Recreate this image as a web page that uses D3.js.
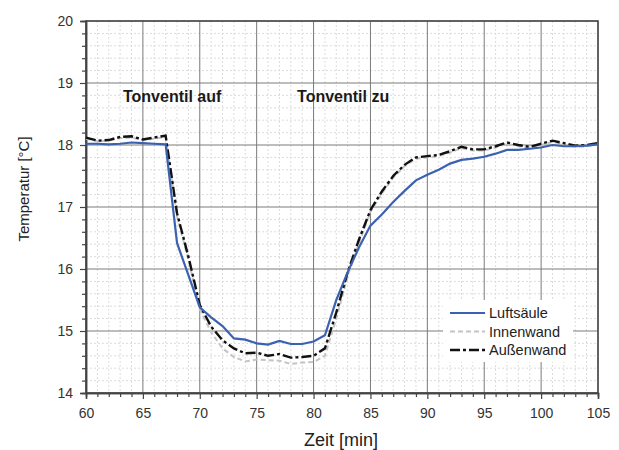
<!DOCTYPE html>
<html>
<head>
<meta charset="utf-8">
<script src="https://cdn.jsdelivr.net/npm/d3@7"></script>
<style>
  body { margin: 0; background: #fff; }
  text { font-family: Arial, "Liberation Sans", sans-serif; }
</style>
</head>
<body>
<svg id="chart" width="619" height="450"></svg>
<script>
// Zeit in Minuten
const zeit = [60, 61, 62, 63, 64, 65, 66, 67, 68, 69, 70, 71, 72, 73, 74, 75, 76, 77, 78, 79, 80, 81, 82,
    83, 84, 85, 86, 87, 88, 89, 90, 91, 92, 93, 94, 95, 96, 97, 98, 99, 100, 101, 102, 103, 104, 105];
const luftsaeule = [18.02, 18.02, 18.01, 18.02, 18.04, 18.03, 18.02, 18.01, 16.42, 15.9, 15.38, 15.22, 15.08,
    14.88, 14.86, 14.8, 14.78, 14.84, 14.79, 14.79, 14.83, 14.93, 15.5, 15.95, 16.35, 16.7, 16.88, 17.08, 17.26,
    17.43, 17.52, 17.6, 17.7, 17.76, 17.78, 17.81, 17.86, 17.92, 17.92, 17.94, 17.96, 18.0, 17.98, 17.98, 17.99, 18.01];
const innenwand = [18.1, 18.06, 18.07, 18.11, 18.12, 18.08, 18.1, 18.13, 16.85, 16.15, 15.35, 14.98, 14.72,
    14.58, 14.51, 14.54, 14.53, 14.52, 14.47, 14.49, 14.5, 14.6, 15.2, 15.88, 16.42, 16.92, 17.22, 17.47, 17.66,
    17.78, 17.8, 17.82, 17.88, 17.95, 17.91, 17.91, 17.96, 18.02, 17.98, 17.95, 18.0, 18.05, 18.01, 17.97, 17.98, 18.01];
const aussenwand = [18.12, 18.07, 18.08, 18.13, 18.14, 18.09, 18.12, 18.15, 16.9, 16.2, 15.42, 15.07, 14.85,
    14.72, 14.64, 14.65, 14.6, 14.63, 14.57, 14.58, 14.6, 14.72, 15.3, 15.95, 16.48, 16.95, 17.25, 17.5, 17.68,
    17.8, 17.82, 17.84, 17.9, 17.97, 17.93, 17.93, 17.98, 18.04, 18.0, 17.97, 18.02, 18.07, 18.03, 17.99, 18.0, 18.03];

const xTicks = [60, 65, 70, 75, 80, 85, 90, 95, 100, 105];
const yTicks = [14, 15, 16, 17, 18, 19, 20];
const seriesNames = ["Luftsäule", "Innenwand", "Außenwand"];
const annotations = [
    { text: "Tonventil auf", t: 63.25, temp: 18.69 },
    { text: "Tonventil zu", t: 78.55, temp: 18.69 }
];

const svg = d3.select("#chart");
const margin = { top: 21, left: 86, right: 21, bottom: 57 };
const width = 619 - margin.left - margin.right;
const height = 450 - margin.top - margin.bottom;

const x = d3.scaleLinear().domain([60, 105]).range([0, width]);
const y = d3.scaleLinear().domain([14, 20]).range([height, 0]);

const g = svg.append("g").attr("transform", `translate(${margin.left},${margin.top})`);

// feines Raster
const minorX = d3.range(60, 105.01, 1).filter(v => v % 5 !== 0);
const minorY = d3.range(14, 20.01, 0.2).filter(v => Math.abs(v - Math.round(v)) > 0.01);
g.append("g").selectAll("line").data(minorX).join("line")
    .attr("x1", d => x(d)).attr("x2", d => x(d)).attr("y1", 0).attr("y2", height)
    .attr("stroke", "#dcdcdc").attr("stroke-dasharray", "2,2");
g.append("g").selectAll("line").data(minorY).join("line")
    .attr("y1", d => y(d)).attr("y2", d => y(d)).attr("x1", 0).attr("x2", width)
    .attr("stroke", "#dcdcdc").attr("stroke-dasharray", "2,2");

// Hauptraster
g.append("g").selectAll("line").data(xTicks).join("line")
    .attr("x1", d => x(d)).attr("x2", d => x(d)).attr("y1", 0).attr("y2", height)
    .attr("stroke", "#7a7a7a").attr("stroke-width", 1);
g.append("g").selectAll("line").data(yTicks).join("line")
    .attr("y1", d => y(d)).attr("y2", d => y(d)).attr("x1", 0).attr("x2", width)
    .attr("stroke", "#7a7a7a").attr("stroke-width", 1);

// Rahmen
g.append("rect").attr("width", width).attr("height", height)
    .attr("fill", "none").attr("stroke", "#444").attr("stroke-width", 1.5);

// Achsen
g.append("g").attr("transform", `translate(0,${height})`)
    .call(d3.axisBottom(x).tickValues(xTicks).tickSize(6).tickPadding(9).tickFormat(d3.format("d")));
g.append("g").attr("transform", `translate(0,${height})`)
    .call(d3.axisBottom(x).tickValues(minorX).tickSize(4).tickFormat(""));
g.append("g")
    .call(d3.axisLeft(y).tickValues(yTicks).tickSize(6).tickPadding(7).tickFormat(d3.format("d")));
g.append("g")
    .call(d3.axisLeft(y).tickValues(minorY).tickSize(4).tickFormat(""));
g.selectAll(".domain").attr("stroke", "#444").attr("stroke-width", 1.5);
g.selectAll(".tick line").attr("stroke", "#444").attr("stroke-width", 1.2);
g.selectAll(".tick text").attr("font-size", 14).attr("fill", "#333")
    .style("font-family", "Arial, 'Liberation Sans', sans-serif");

// Linien
const line = d3.line().x((d, i) => x(zeit[i])).y(d => y(d));
g.append("path").datum(innenwand).attr("d", line)
    .attr("fill", "none").attr("stroke", "#c4c4c4").attr("stroke-width", 2)
    .attr("stroke-dasharray", "5,3");
g.append("path").datum(aussenwand).attr("d", line)
    .attr("fill", "none").attr("stroke", "#111").attr("stroke-width", 2.4)
    .attr("stroke-dasharray", "10,3,3,3");
g.append("path").datum(luftsaeule).attr("d", line)
    .attr("fill", "none").attr("stroke", "#3a62b0").attr("stroke-width", 2.2);

// Beschriftungen
g.selectAll(".anno").data(annotations).join("text")
    .attr("class", "anno")
    .attr("x", d => x(d.t)).attr("y", d => y(d.temp))
    .attr("font-size", 16).attr("font-weight", "bold").attr("fill", "#1a1a1a")
    .text(d => d.text);

// Legende
const legend = svg.append("g").attr("transform", "translate(443,300)");
legend.append("rect").attr("width", 130).attr("height", 62).attr("fill", "#fff");
const legendStyles = [
    { stroke: "#3a62b0", dash: null, w: 2.2 },
    { stroke: "#c4c4c4", dash: "5,3", w: 2 },
    { stroke: "#111", dash: "10,3,3,3", w: 2.4 }
];
const rows = legend.selectAll(".row").data(seriesNames).join("g")
    .attr("class", "row")
    .attr("transform", (d, i) => `translate(0,${13 + i * 18.5})`);
rows.append("line").attr("x1", 7).attr("x2", 42)
    .attr("stroke", (d, i) => legendStyles[i].stroke)
    .attr("stroke-width", (d, i) => legendStyles[i].w)
    .attr("stroke-dasharray", (d, i) => legendStyles[i].dash);
rows.append("text").attr("x", 46).attr("dy", "0.35em")
    .attr("font-size", 14.5).attr("fill", "#222").text(d => d);

// Achsentitel
svg.append("text").attr("x", margin.left + width / 2 - 1).attr("y", 446)
    .attr("text-anchor", "middle").attr("font-size", 18).attr("fill", "#222")
    .text("Zeit [min]");
svg.append("text").attr("transform", "translate(29,189) rotate(-90)")
    .attr("text-anchor", "middle").attr("font-size", 15).attr("fill", "#222")
    .text("Temperatur [°C]");
</script>
</body>
</html>
